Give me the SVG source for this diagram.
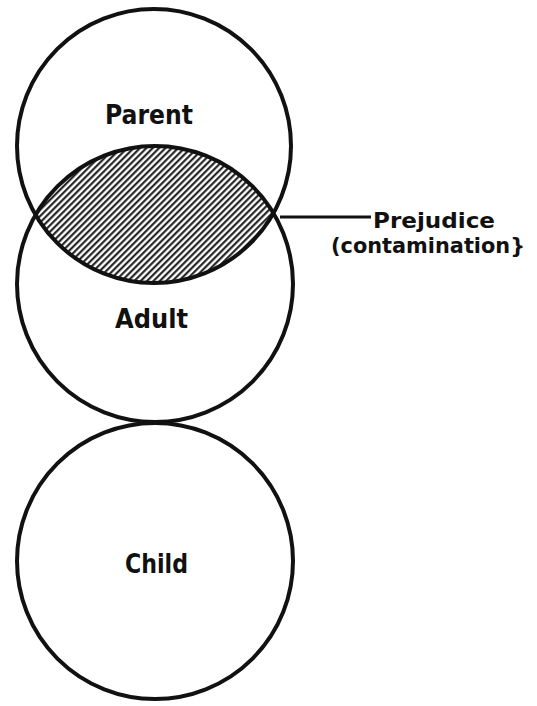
<svg xmlns="http://www.w3.org/2000/svg" width="537" height="706" viewBox="0 0 537 706">
  <style>
    .ring { fill: none; stroke: #111; stroke-width: 4; }
    .lbl { font-family: "DejaVu Sans", "Liberation Sans", sans-serif; fill: #111; font-weight: bold; font-size: 26px; }
    .note { font-family: "DejaVu Sans", "Liberation Sans", sans-serif; fill: #111; font-weight: bold; font-size: 22px; }
    .conn { stroke: #111; stroke-width: 3; fill: none; }
  </style>
  <defs>
    <pattern id="hatch" width="4.5" height="10" patternUnits="userSpaceOnUse" patternTransform="rotate(45)">
      <rect width="4.5" height="10" fill="#fff"/>
      <line x1="1.2" y1="0" x2="1.2" y2="10" stroke="#111" stroke-width="2"/>
    </pattern>
    <clipPath id="parentClip">
      <circle cx="154" cy="146" r="137"/>
    </clipPath>
  </defs>
  <rect width="537" height="706" fill="#fff"/>

  <g id="prejudice-area">
    <circle cx="155" cy="284" r="138" fill="url(#hatch)" clip-path="url(#parentClip)"/>
  </g>

  <g id="parent">
    <circle class="ring" cx="154" cy="146" r="137"/>
    <text class="lbl" x="105" y="124" textLength="88" lengthAdjust="spacingAndGlyphs">Parent</text>
  </g>

  <g id="adult">
    <circle class="ring" cx="155" cy="284" r="138"/>
    <text class="lbl" x="115" y="328" textLength="73" lengthAdjust="spacingAndGlyphs">Adult</text>
  </g>

  <g id="child">
    <circle class="ring" cx="155" cy="561" r="138"/>
    <text class="lbl" x="125" y="573" textLength="63" lengthAdjust="spacingAndGlyphs" font-weight="normal">Child</text>
  </g>

  <g id="connectors">
    <line class="conn" x1="280" y1="217" x2="371" y2="217"/>
  </g>

  <g id="prejudice-label">
    <text class="note" x="373" y="228" textLength="122" lengthAdjust="spacingAndGlyphs">Prejudice</text>
    <text class="note" x="331" y="253" textLength="194" lengthAdjust="spacingAndGlyphs">(contamination}</text>
  </g>
</svg>
